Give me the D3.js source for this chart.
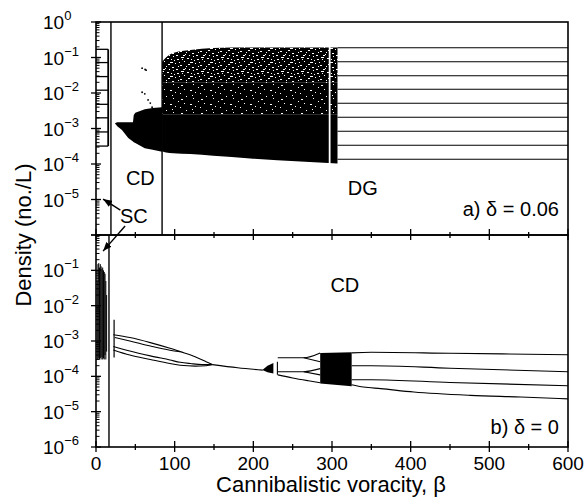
<!DOCTYPE html>
<html>
<head>
<meta charset="utf-8">
<script src="https://cdn.jsdelivr.net/npm/d3@7"></script>
<style>
  body { margin: 0; background: #fff; }
  text { font-family: "Liberation Sans", Arial, sans-serif; fill: #000; }
</style>
</head>
<body>
<div id="chart"></div>
<script>
// ---------- data (beta = cannibalistic voracity, densities in no./L) ----------

// x axis
const xMajor = [0, 100, 200, 300, 400, 500, 600];
const xMinor = [50, 150, 250, 350, 450, 550];

// y axis labels per panel
const topTicks = [1, 1e-1, 1e-2, 1e-3, 1e-4, 1e-5];
const topExp = ["0", "\u22121", "\u22122", "\u22123", "\u22124", "\u22125"];
const botTicks = [1e-1, 1e-2, 1e-3, 1e-4, 1e-5, 1e-6];
const botExp = ["\u22121", "\u22122", "\u22123", "\u22124", "\u22125", "\u22126"];

// ---- panel a) delta = 0.06 ----
// regime borders drawn as full-height lines
const topBorders = [19, 84];

// SC comb at small beta
const scCombEnd = 15.5;
const scCombLevels = [0.17, 0.072, 0.029, 0.012, 0.0048, 0.002, 0.0008, 0.00032];

// CD region (filled band)
const cdBeta  = [24, 27, 33, 41, 47, 48, 50, 62, 72, 84];
const cdUpper = [1.4e-3, 1.5e-3, 1.5e-3, 1.5e-3, 1.5e-3, 2.4e-3, 2.8e-3, 3.5e-3, 3.8e-3, 4.0e-3];
const cdLower = [1.4e-3, 1.15e-3, 9.0e-4, 5.4e-4, 4.3e-4, 4.1e-4, 3.9e-4, 2.8e-4, 2.5e-4, 2.2e-4];
// scattered points above the CD band
const cdDotBeta = [58.6, 62.4, 63.7, 58.6, 62, 66.2, 71.3, 69];
const cdDotDens = [0.05, 0.046, 0.044, 0.0105, 0.0095, 0.0064, 0.004, 0.0052];

// chaotic region before DG: upper (sparse), middle, lower (solid)
const chBeta  = [84, 89, 98, 120, 149, 196, 260, 307];
const chUpper = [0.075, 0.1, 0.134, 0.163, 0.185, 0.19, 0.19, 0.19];
const chMid   = [0.02, 0.02, 0.02, 0.02, 0.02, 0.02, 0.02, 0.02];
const chSolid = [0.0025, 0.0025, 0.0025, 0.0025, 0.0025, 0.0025, 0.0025, 0.0025];
const chLower = [2.3e-4, 2.1e-4, 2.0e-4, 1.9e-4, 1.7e-4, 1.43e-4, 1.18e-4, 1.03e-4];
const chGap = 297;

// DG: nine generation-cycle levels
const dgStart = 307;
const dgLevels = [0.189, 0.0762, 0.0307, 0.0127, 0.00513, 0.00207, 0.000834, 0.000336, 0.000136];

// ---- panel b) delta = 0 ----
const botBorder = 16.5;

// dense chaotic lines at very small beta
const scBeta = [1.5, 2.5, 3.5, 4.5, 5.5, 6.5, 7.5, 8.5, 9.5, 10.5, 11.5, 12.5, 13.5];
const scHi   = [0.05, 0.15, 0.16, 0.12, 0.15, 0.13, 0.11, 0.12, 0.10, 0.09, 0.08, 0.05, 0.02];
const scLo   = [3e-4, 3e-4, 3.2e-4, 3e-4, 3.3e-4, 3e-4, 3.5e-4, 3e-4, 3.2e-4, 3e-4, 4e-4, 3e-4, 5e-4];
const scSpike = { beta: 23, lo: 3.4e-4, hi: 4.0e-3 };

// period-4 branches
const brA = { beta: [22, 43, 69, 94, 107, 126, 140, 148], dens: [1.5e-3, 1.25e-3, 9e-4, 6.2e-4, 5.0e-4, 3.6e-4, 2.6e-4, 2.15e-4] };
const brB = { beta: [24, 43, 69, 94, 107], dens: [1.25e-3, 1.0e-3, 7.2e-4, 5.5e-4, 5.0e-4] };
const brC = { beta: [22, 43, 69, 94, 107, 120, 135, 148], dens: [7.0e-4, 5.2e-4, 3.8e-4, 2.9e-4, 2.5e-4, 2.3e-4, 2.15e-4, 2.15e-4] };
const brD = { beta: [22, 43, 69, 94, 107, 126, 140, 148], dens: [5.6e-4, 4.0e-4, 3.0e-4, 2.3e-4, 2.05e-4, 1.95e-4, 2.0e-4, 2.15e-4] };
// fixed point
const brE = { beta: [148, 180, 212], dens: [2.15e-4, 1.75e-4, 1.5e-4] };
// period doubling cascade
const cascBeta  = [211.5, 218, 225.5];
const cascUpper = [1.5e-4, 2.0e-4, 2.4e-4];
const cascLower = [1.5e-4, 1.3e-4, 1.2e-4];
const cascLine = { beta: 230.6, lo: 1.1e-4, hi: 2.6e-4 };
// branches after cascade
const brF1 = { beta: [231, 250, 264, 285], dens: [3.35e-4, 3.35e-4, 3.35e-4, 4.6e-4] };
const brF2 = { beta: [264, 285], dens: [3.35e-4, 2.6e-4] };
const brG1 = { beta: [231, 250, 264, 285], dens: [1.35e-4, 1.35e-4, 1.35e-4, 1.65e-4] };
const brG2 = { beta: [264, 285], dens: [1.35e-4, 1.1e-4] };
const brH  = { beta: [231, 250, 270, 285], dens: [1.1e-4, 9e-5, 7.5e-5, 6.6e-5] };
// chaotic band
const bandBeta  = [285, 325];
const bandUpper = [4.6e-4, 4.8e-4];
const bandLower = [6.3e-5, 5.2e-5];
// period-4 cycle at high beta
const hiL1 = { beta: [325, 350, 450, 600], dens: [4.6e-4, 4.8e-4, 4.5e-4, 4.1e-4] };
const hiL2 = { beta: [325, 350, 450, 600], dens: [2.0e-4, 2.0e-4, 1.7e-4, 1.35e-4] };
const hiL3 = { beta: [325, 350, 450, 600], dens: [8e-5, 8e-5, 6.7e-5, 5.4e-5] };
const hiL4 = { beta: [325, 340, 362, 404, 476, 540, 600], dens: [5.8e-5, 5.0e-5, 4.5e-5, 3.6e-5, 2.9e-5, 2.6e-5, 2.3e-5] };

// ---------- drawing ----------
const W = 587, H = 501;
const svg = d3.select("#chart").append("svg")
    .attr("width", W)
    .attr("height", H);

const x = d3.scaleLinear().domain([0, 600]).range([96, 568]);
const yA = d3.scaleLog().domain([1e-6, 1]).range([235, 22]);
const yB = d3.scaleLog().domain([1e-6, 1]).range([447, 235]);

const defs = svg.append("defs");

// speckled textures of the chaotic attractor (sparse and dense)
function speckle(id, holes) {
    const p = defs.append("pattern")
        .attr("id", id)
        .attr("width", 20).attr("height", 14)
        .attr("patternUnits", "userSpaceOnUse");
    p.append("rect").attr("width", 20).attr("height", 14).attr("fill", "#000");
    holes.forEach(r => {
        p.append("rect").attr("x", r[0]).attr("y", r[1]).attr("width", r[2]).attr("height", r[3]).attr("fill", "#fff");
    });
}
speckle("speckleHi", [[1, 1, 3, 1], [7, 2, 2, 1], [13, 0, 1, 1], [17, 3, 2, 1], [4, 5, 1, 1], [10, 6, 3, 1],
    [15, 7, 1, 1], [0, 9, 2, 1], [6, 10, 1, 1], [12, 11, 2, 1], [18, 10, 1, 1], [3, 13, 2, 1], [9, 13, 1, 1],
    [16, 13, 2, 1], [2, 3, 1, 1], [8, 8, 2, 1], [14, 4, 1, 1], [19, 6, 1, 1], [5, 12, 1, 1], [11, 3, 1, 1]]);
speckle("speckleLo", [[1, 1, 2, 1], [13, 0, 1, 1], [4, 5, 1, 1], [10, 6, 2, 1], [0, 9, 1, 1], [15, 8, 1, 1],
    [12, 11, 1, 1], [18, 3, 1, 1], [6, 12, 1, 1]]);

defs.append("marker")
    .attr("id", "arrow")
    .attr("markerUnits", "userSpaceOnUse")
    .attr("markerWidth", 9).attr("markerHeight", 7)
    .attr("refX", 9).attr("refY", 3.5)
    .attr("orient", "auto")
    .append("path").attr("d", "M0,0 L9,3.5 L0,7 Z").attr("fill", "#000");

defs.append("clipPath").attr("id", "clipA")
    .append("rect").attr("x", x(0)).attr("y", yA(1)).attr("width", x(600) - x(0)).attr("height", yA(1e-6) - yA(1));
defs.append("clipPath").attr("id", "clipB")
    .append("rect").attr("x", x(0)).attr("y", yB(1)).attr("width", x(600) - x(0)).attr("height", yB(1e-6) - yB(1));

const zip = (b, d) => b.map((v, i) => [v, d[i]]);
const band = (y) => d3.area()
    .x(d => x(d.b))
    .y0(d => y(d.lo))
    .y1(d => y(d.hi));
const rows = (bs, lo, hi) => bs.map((b, i) => ({ b: b, lo: lo[i], hi: hi[i] }));

// ---------- panel a ----------
const gA = svg.append("g").attr("clip-path", "url(#clipA)");

// chaotic region: speckled upper parts, solid lower part
gA.append("path")
    .datum(rows(chBeta, chMid, chUpper))
    .attr("d", band(yA).curve(d3.curveMonotoneX))
    .attr("fill", "url(#speckleHi)");
gA.append("path")
    .datum(rows(chBeta, chSolid, chMid))
    .attr("d", band(yA))
    .attr("fill", "url(#speckleLo)");
gA.append("path")
    .datum(rows(chBeta, chLower, chSolid))
    .attr("d", band(yA).curve(d3.curveMonotoneX))
    .attr("fill", "#000");
gA.append("line")
    .attr("x1", x(chGap)).attr("x2", x(chGap))
    .attr("y1", yA(0.3)).attr("y2", yA(5e-5))
    .attr("stroke", "#fff").attr("stroke-width", 1.8);

// CD band
gA.append("path")
    .datum(rows(cdBeta, cdLower, cdUpper))
    .attr("d", band(yA))
    .attr("fill", "#000");
gA.selectAll("circle.cd")
    .data(zip(cdDotBeta, cdDotDens))
    .join("circle")
    .attr("class", "cd")
    .attr("cx", d => x(d[0])).attr("cy", d => yA(d[1]))
    .attr("r", 0.9).attr("fill", "#000");

// SC comb
gA.selectAll("line.comb")
    .data(scCombLevels)
    .join("line")
    .attr("class", "comb")
    .attr("x1", x(0)).attr("x2", x(scCombEnd))
    .attr("y1", d => yA(d)).attr("y2", d => yA(d))
    .attr("stroke", "#000").attr("stroke-width", 1.3);
gA.append("line")
    .attr("x1", x(scCombEnd)).attr("x2", x(scCombEnd))
    .attr("y1", yA(d3.max(scCombLevels))).attr("y2", yA(d3.min(scCombLevels)))
    .attr("stroke", "#000").attr("stroke-width", 1.8);

// DG lines
gA.selectAll("line.dg")
    .data(dgLevels)
    .join("line")
    .attr("class", "dg")
    .attr("x1", x(dgStart)).attr("x2", x(600))
    .attr("y1", d => yA(d)).attr("y2", d => yA(d))
    .attr("stroke", "#000").attr("stroke-width", 1.1);

// regime borders
gA.selectAll("line.border")
    .data(topBorders)
    .join("line")
    .attr("class", "border")
    .attr("x1", d => x(d)).attr("x2", d => x(d))
    .attr("y1", yA(1)).attr("y2", yA(1e-6))
    .attr("stroke", "#000").attr("stroke-width", 1.4);

// ---------- panel b ----------
const gB = svg.append("g").attr("clip-path", "url(#clipB)");
const lineB = d3.line().x(d => x(d[0])).y(d => yB(d[1])).curve(d3.curveMonotoneX);

gB.selectAll("line.sc")
    .data(rows(scBeta, scLo, scHi))
    .join("line")
    .attr("class", "sc")
    .attr("x1", d => x(d.b)).attr("x2", d => x(d.b))
    .attr("y1", d => yB(d.hi)).attr("y2", d => yB(d.lo))
    .attr("stroke", "#000").attr("stroke-width", 1);
gB.append("line")
    .attr("x1", x(scSpike.beta)).attr("x2", x(scSpike.beta))
    .attr("y1", yB(scSpike.hi)).attr("y2", yB(scSpike.lo))
    .attr("stroke", "#000").attr("stroke-width", 1.2);
gB.append("line")
    .attr("x1", x(botBorder)).attr("x2", x(botBorder))
    .attr("y1", yB(1)).attr("y2", yB(1e-6))
    .attr("stroke", "#000").attr("stroke-width", 1.4);

[brA, brB, brC, brD, brE, brF1, brF2, brG1, brG2, brH, hiL1, hiL2, hiL3, hiL4].forEach(br => {
    gB.append("path")
        .datum(zip(br.beta, br.dens))
        .attr("d", lineB)
        .attr("fill", "none")
        .attr("stroke", "#000")
        .attr("stroke-width", 1.1);
});

gB.append("path")
    .datum(rows(cascBeta, cascLower, cascUpper))
    .attr("d", band(yB))
    .attr("fill", "#000");
gB.append("line")
    .attr("x1", x(cascLine.beta)).attr("x2", x(cascLine.beta))
    .attr("y1", yB(cascLine.hi)).attr("y2", yB(cascLine.lo))
    .attr("stroke", "#000").attr("stroke-width", 1.1);
gB.append("path")
    .datum(rows(bandBeta, bandLower, bandUpper))
    .attr("d", band(yB))
    .attr("fill", "#000");

// ---------- axes ----------
const ax = svg.append("g").attr("stroke", "#000").attr("fill", "none");
[[22, 235], [235, 447]].forEach(p => {
    ax.append("rect")
        .attr("x", x(0)).attr("y", p[0])
        .attr("width", x(600) - x(0)).attr("height", p[1] - p[0])
        .attr("stroke-width", 1.6);
});

// x ticks on the middle and bottom axes (crossing)
[235, 447].forEach(yy => {
    ax.selectAll(null).data(xMajor).join("line")
        .attr("x1", d => x(d)).attr("x2", d => x(d))
        .attr("y1", yy - 6).attr("y2", yy + 5)
        .attr("stroke-width", 1.3);
    ax.selectAll(null).data(xMinor).join("line")
        .attr("x1", d => x(d)).attr("x2", d => x(d))
        .attr("y1", yy - 3).attr("y2", yy + 3)
        .attr("stroke-width", 1.3);
});

// y ticks: majors crossing, log minors inside
const minors = [];
d3.range(-6, 0).forEach(e => d3.range(2, 10).forEach(k => minors.push(k * Math.pow(10, e))));
[yA, yB].forEach(y => {
    ax.selectAll(null).data([1e-6, 1e-5, 1e-4, 1e-3, 1e-2, 1e-1, 1]).join("line")
        .attr("x1", x(0) - 5).attr("x2", x(0) + 5)
        .attr("y1", d => y(d)).attr("y2", d => y(d))
        .attr("stroke-width", 1.3);
    ax.selectAll(null).data(minors).join("line")
        .attr("x1", x(0)).attr("x2", x(0) + 3.5)
        .attr("y1", d => y(d)).attr("y2", d => y(d))
        .attr("stroke-width", 1);
});

// tick labels
const lab = svg.append("g").attr("font-size", 19);
lab.selectAll("text.xl").data(xMajor).join("text")
    .attr("class", "xl")
    .attr("x", d => x(d)).attr("y", 470)
    .attr("text-anchor", "middle")
    .text(d => d);

function yLabels(ticks, exps, y) {
    ticks.forEach((t, i) => {
        const tx = lab.append("text")
            .attr("x", 43).attr("y", y(t) + 7);
        tx.append("tspan").text("10");
        tx.append("tspan").attr("font-size", 13).attr("dy", -9).text(exps[i]);
    });
}
yLabels(topTicks, topExp, yA);
yLabels(botTicks, botExp, yB);

// axis titles
svg.append("text")
    .attr("x", 331).attr("y", 492)
    .attr("text-anchor", "middle")
    .attr("font-size", 22)
    .text("Cannibalistic voracity, \u03b2");
svg.append("text")
    .attr("transform", "translate(31,235) rotate(-90)")
    .attr("text-anchor", "middle")
    .attr("font-size", 22)
    .text("Density (no./L)");

// annotations
const notes = [
    { t: "CD", b: 38, d: 2.6e-5, y: yA, a: "start" },
    { t: "SC", b: 30.5, d: 2.2e-6, y: yA, a: "start" },
    { t: "DG", b: 320, d: 1.34e-5, y: yA, a: "start" },
    { t: "a) \u03b4 = 0.06", b: 588.5, d: 3.4e-6, y: yA, a: "end" },
    { t: "CD", b: 298, d: 0.0245, y: yB, a: "start" },
    { t: "b) \u03b4 = 0", b: 588.5, d: 2.4e-6, y: yB, a: "end" }
];
svg.selectAll("text.note").data(notes).join("text")
    .attr("class", "note")
    .attr("x", d => x(d.b)).attr("y", d => d.y(d.d))
    .attr("text-anchor", d => d.a)
    .attr("font-size", 20)
    .text(d => d.t);

// SC arrows
const arrows = [
    { from: [x(31), yA(5e-6)], to: [x(9), yA(1.03e-5)] },
    { from: [x(37), yA(1.8e-6)], to: [x(9), yB(0.35)] }
];
svg.selectAll("line.arrow").data(arrows).join("line")
    .attr("class", "arrow")
    .attr("x1", d => d.from[0]).attr("y1", d => d.from[1])
    .attr("x2", d => d.to[0]).attr("y2", d => d.to[1])
    .attr("stroke", "#000").attr("stroke-width", 1.4)
    .attr("marker-end", "url(#arrow)");
</script>
</body>
</html>
